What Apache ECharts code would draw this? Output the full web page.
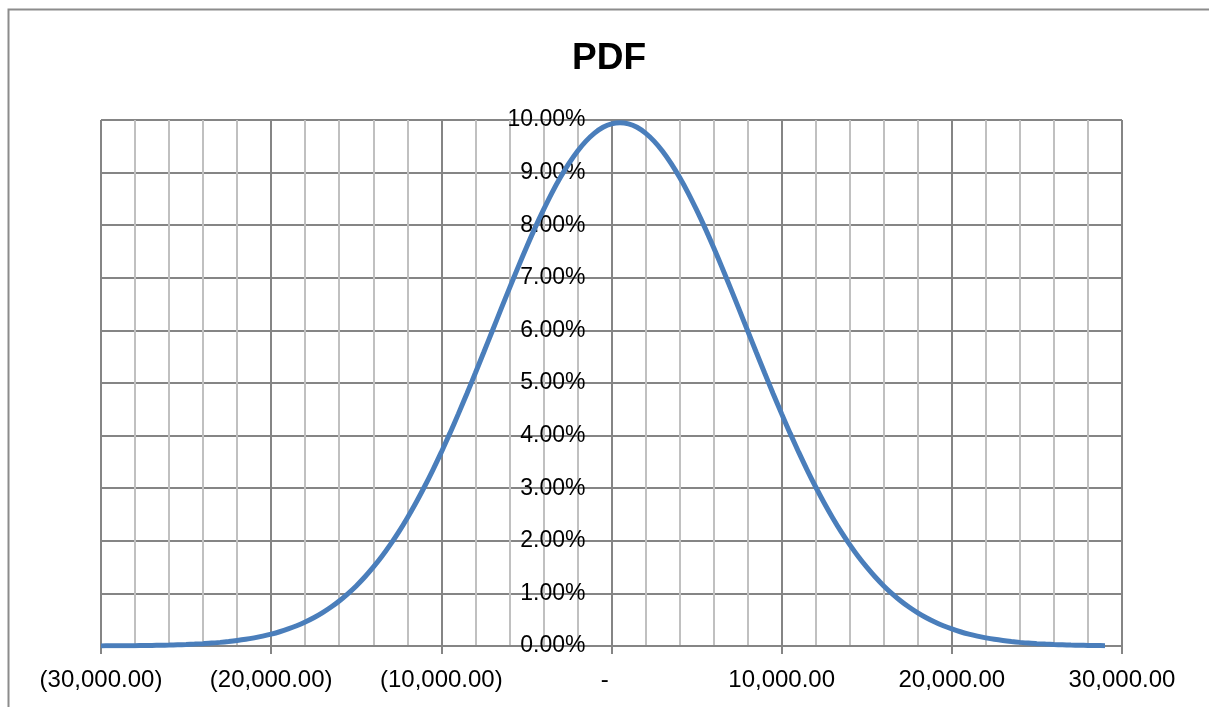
<!DOCTYPE html>
<html>
<head>
<meta charset="utf-8">
<title>PDF</title>
<script src="https://cdn.jsdelivr.net/npm/echarts@6/dist/echarts.min.js"></script>
<style>
  html, body { margin: 0; padding: 0; background: #fff; }
  #chart { width: 1209px; height: 707px; }
</style>
</head>
<body>
<div id="chart"></div>
<script>
// x values (every 500) and the PDF, in percent
const xValues = [
  -30000, -29500, -29000, -28500, -28000, -27500, -27000, -26500, -26000, -25500,
  -25000, -24500, -24000, -23500, -23000, -22500, -22000, -21500, -21000, -20500,
  -20000, -19500, -19000, -18500, -18000, -17500, -17000, -16500, -16000, -15500,
  -15000, -14500, -14000, -13500, -13000, -12500, -12000, -11500, -11000, -10500,
  -10000, -9500, -9000, -8500, -8000, -7500, -7000, -6500, -6000, -5500,
  -5000, -4500, -4000, -3500, -3000, -2500, -2000, -1500, -1000, -500,
  0, 500, 1000, 1500, 2000, 2500, 3000, 3500, 4000, 4500,
  5000, 5500, 6000, 6500, 7000, 7500, 8000, 8500, 9000, 9500,
  10000, 10500, 11000, 11500, 12000, 12500, 13000, 13500, 14000, 14500,
  15000, 15500, 16000, 16500, 17000, 17500, 18000, 18500, 19000, 19500,
  20000, 20500, 21000, 21500, 22000, 22500, 23000, 23500, 24000, 24500,
  25000, 25500, 26000, 26500, 27000, 27500, 28000, 28500, 29000
];
const pdfValues = [
  0.002, 0.003, 0.004, 0.005, 0.007, 0.0085, 0.011, 0.014, 0.018, 0.023,
  0.028, 0.036, 0.045, 0.055, 0.069, 0.085, 0.104, 0.127, 0.155, 0.187,
  0.226, 0.271, 0.324, 0.385, 0.456, 0.537, 0.630, 0.736, 0.856, 0.992,
  1.142, 1.311, 1.498, 1.701, 1.927, 2.170, 2.435, 2.719, 3.023, 3.345,
  3.685, 4.042, 4.413, 4.797, 5.190, 5.590, 5.994, 6.399, 6.799, 7.194,
  7.576, 7.944, 8.290, 8.615, 8.910, 9.175, 9.406, 9.598, 9.750, 9.861,
  9.928, 9.950, 9.928, 9.861, 9.750, 9.598, 9.406, 9.175, 8.910, 8.615,
  8.290, 7.944, 7.576, 7.194, 6.799, 6.399, 5.994, 5.590, 5.190, 4.797,
  4.413, 4.042, 3.685, 3.345, 3.023, 2.719, 2.435, 2.170, 1.927, 1.701,
  1.498, 1.311, 1.142, 0.992, 0.856, 0.736, 0.630, 0.537, 0.456, 0.385,
  0.324, 0.271, 0.226, 0.187, 0.155, 0.127, 0.104, 0.085, 0.069, 0.055,
  0.045, 0.036, 0.028, 0.023, 0.018, 0.014, 0.011, 0.0085, 0.007
];

const font = '"Liberation Sans", Arial, sans-serif';
const majorGrid = '#858585';
const minorGrid = '#c0c0c0';

const gridLeft = 101;
const gridRight = 87;
const plotWidth = 1209 - gridLeft - gridRight;

// Excel accounting style: negatives in brackets, zero as a dash
const fmtX = (v) => {
  if (v === 0) return '-  ';
  const s = Math.abs(v).toLocaleString('en-US', { minimumFractionDigits: 2, maximumFractionDigits: 2 });
  return v < 0 ? '(' + s + ')' : s;
};

const chart = echarts.init(document.getElementById('chart'));

chart.setOption({
  animation: false,
  backgroundColor: '#fff',
  title: {
    text: 'PDF',
    left: 567,
    top: 35,
    textStyle: { fontFamily: font, fontSize: 37, fontWeight: 'bold', color: '#000' }
  },
  graphic: [{
    type: 'rect',
    left: 6,
    top: 7,
    shape: { width: 1400, height: 900 },
    style: { fill: 'none', stroke: '#8c8c8c', lineWidth: 2 },
    silent: true
  }],
  grid: { left: gridLeft, right: gridRight, top: 120, bottom: 61 },
  xAxis: {
    type: 'value',
    min: -30000,
    max: 30000,
    interval: 10000,
    axisLine: { show: true, onZero: true, lineStyle: { color: majorGrid, width: 2 } },
    axisTick: { show: true, length: 8, lineStyle: { color: majorGrid, width: 2 } },
    axisLabel: { margin: 22, fontFamily: font, fontSize: 24, color: '#000', formatter: fmtX },
    splitLine: { show: true, lineStyle: { color: majorGrid, width: 2 } },
    minorTick: { show: false, splitNumber: 5 },
    minorSplitLine: { show: true, lineStyle: { color: minorGrid, width: 2 } }
  },
  yAxis: {
    type: 'value',
    min: 0,
    max: 10,
    interval: 1,
    // the vertical axis crosses at x = 0, in the middle of the plot
    position: 'left',
    offset: -plotWidth / 2,
    axisLine: { show: true, onZero: false, lineStyle: { color: majorGrid, width: 2 } },
    axisTick: { show: true, length: 7, lineStyle: { color: majorGrid, width: 2 } },
    axisLabel: {
      margin: 26,
      fontFamily: font,
      fontSize: 23,
      color: '#000',
      formatter: (v) => v.toFixed(2) + '%'
    },
    splitLine: { show: true, lineStyle: { color: majorGrid, width: 2 } }
  },
  series: [{
    name: 'PDF',
    type: 'line',
    data: xValues.map((x, i) => [x, pdfValues[i]]),
    smooth: 0.3,
    showSymbol: false,
    lineStyle: { color: '#4a7ebb', width: 5 },
    z: 5
  }]
});
</script>
</body>
</html>
